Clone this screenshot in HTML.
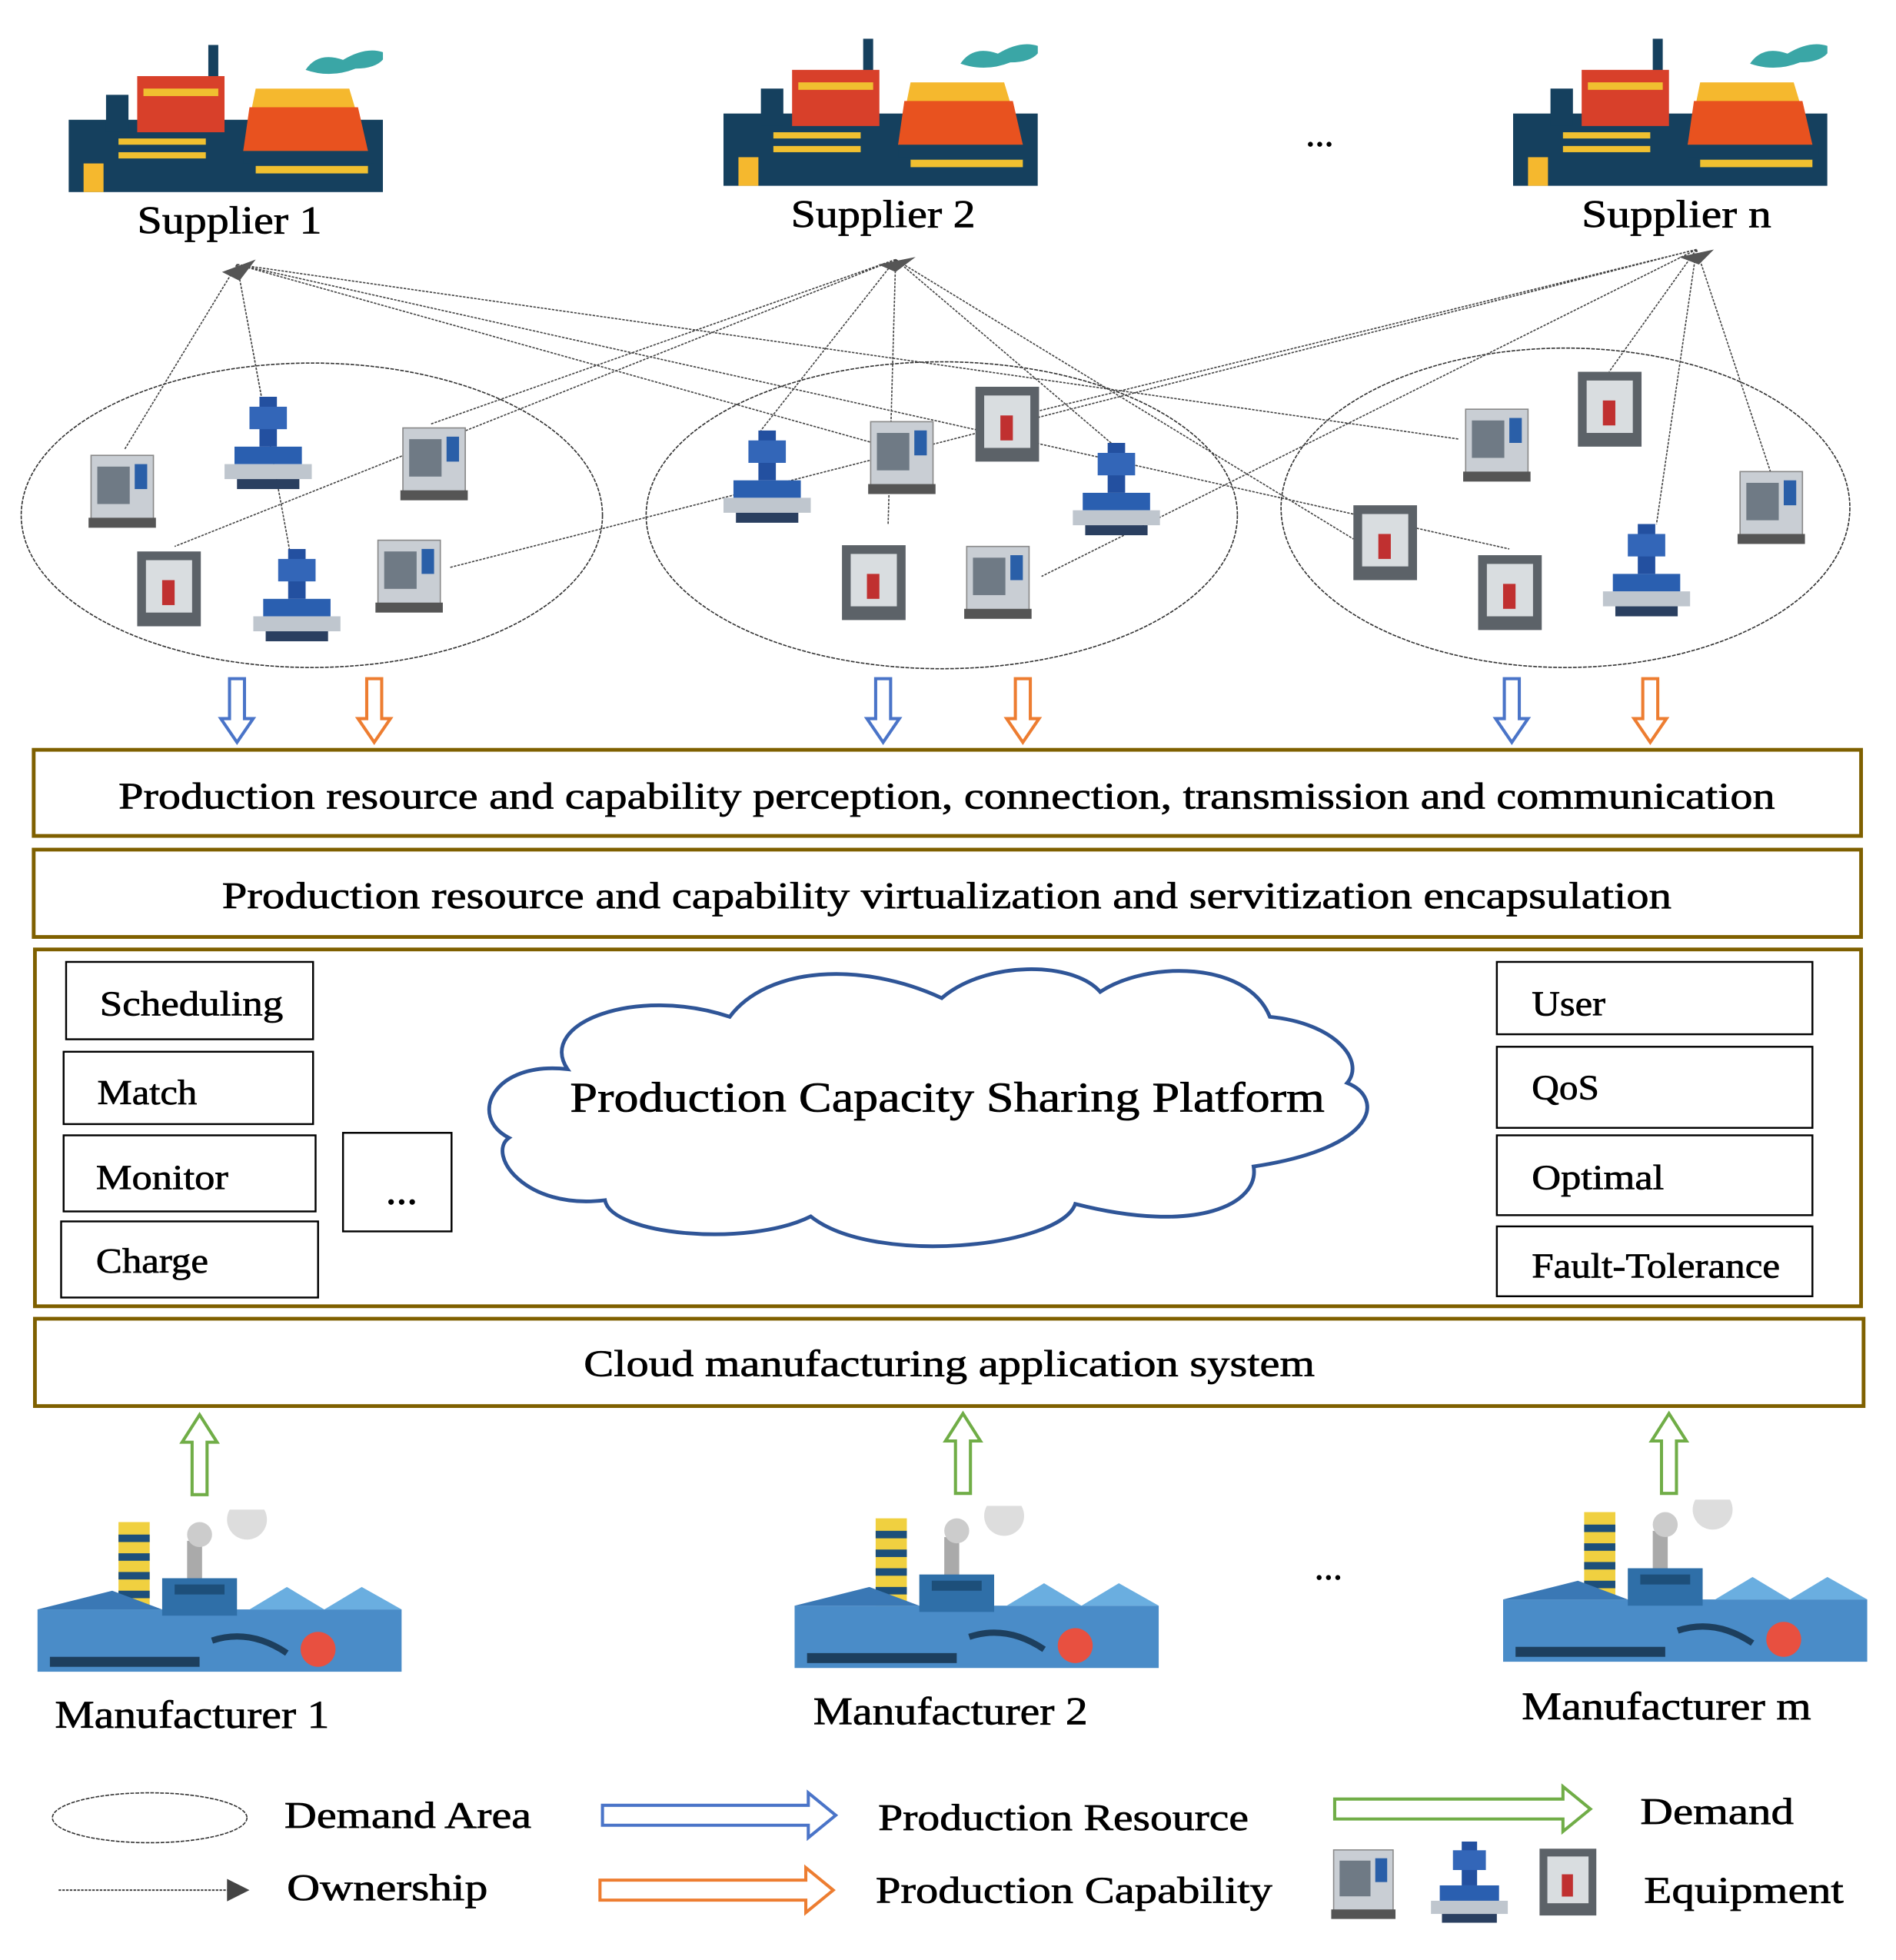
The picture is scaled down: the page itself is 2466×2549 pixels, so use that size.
<!DOCTYPE html>
<html><head><meta charset="utf-8"><style>
html,body{margin:0;padding:0;background:#fff}
svg{display:block}
text{font-family:"Liberation Serif",serif;fill:#000;stroke:#000;stroke-width:0.45}
</style></head><body>
<svg width="2466" height="2549" viewBox="0 0 1520 1571" preserveAspectRatio="none" xmlns="http://www.w3.org/2000/svg">
<defs>
<symbol id="sup" viewBox="0 0 252 118">
 <rect x="0" y="60" width="252" height="58" fill="#15405e"/>
 <rect x="30" y="40" width="18" height="30" fill="#15405e"/>
 <rect x="112" y="0" width="8" height="40" fill="#15405e"/>
 <rect x="55" y="25" width="70" height="45" fill="#d8402a"/>
 <rect x="60" y="35" width="60" height="6" fill="#f0c030"/>
 <polygon points="150,35 225,35 240,85 140,85" fill="#f5b82e"/>
 <polygon points="145,50 232,50 240,85 140,85" fill="#e8521f"/>
 <rect x="140" y="85" width="105" height="10" fill="#15405e"/>
 <rect x="150" y="97" width="90" height="6" fill="#f0c030"/>
 <rect x="40" y="75" width="70" height="5" fill="#f0c030"/>
 <rect x="40" y="86" width="70" height="5" fill="#f0c030"/>
 <rect x="12" y="95" width="16" height="23" fill="#f5b82e"/>
 <path d="M190 20 q10 -15 30 -8 q20 -12 35 -5 q-5 12 -25 12 q-20 8 -40 1z" fill="#3aa6a6"/>
</symbol>
<symbol id="man" viewBox="0 0 292 130">
 <rect x="65" y="10" width="25" height="70" fill="#f0d040"/>
 <rect x="65" y="20" width="25" height="6" fill="#1d4f7a"/><rect x="65" y="35" width="25" height="6" fill="#1d4f7a"/><rect x="65" y="50" width="25" height="6" fill="#1d4f7a"/><rect x="65" y="65" width="25" height="6" fill="#1d4f7a"/>
 <rect x="120" y="25" width="12" height="35" fill="#aaa"/>
 <circle cx="130" cy="20" r="10" fill="#ccc"/><circle cx="168" cy="8" r="16" fill="#ddd"/>
 <rect x="0" y="80" width="292" height="50" fill="#4a8cc8"/>
 <polygon points="0,80 60,65 100,80" fill="#3a78b5"/>
 <rect x="100" y="55" width="60" height="30" fill="#2f6fa8"/>
 <rect x="110" y="60" width="40" height="8" fill="#1d4f7a"/>
 <polygon points="170,80 200,62 230,80 260,62 292,80" fill="#6aaee0"/>
 <circle cx="225" cy="112" r="14" fill="#e85040"/>
 <rect x="10" y="118" width="120" height="8" fill="#1d3f5e"/>
 <path d="M140 105 q30 -10 60 10" stroke="#1d3f5e" stroke-width="5" fill="none"/>
</symbol>
<symbol id="mA" viewBox="0 0 60 65">
 <rect x="5" y="5" width="50" height="52" fill="#c9ced4" stroke="#888"/>
 <rect x="10" y="14" width="26" height="30" fill="#6f7a85"/>
 <rect x="40" y="12" width="10" height="20" fill="#2a5fa8"/>
 <rect x="3" y="55" width="54" height="8" fill="#555"/>
</symbol>
<symbol id="mB" viewBox="0 0 70 75">
 <rect x="28" y="0" width="14" height="40" fill="#2350a0"/>
 <rect x="20" y="8" width="30" height="18" fill="#3366b8"/>
 <rect x="8" y="40" width="54" height="14" fill="#2a5fb0"/>
 <rect x="0" y="54" width="70" height="12" fill="#bfc6ce"/>
 <rect x="10" y="66" width="50" height="8" fill="#2a3f60"/>
</symbol>
<symbol id="mC" viewBox="0 0 55 65">
 <rect x="2" y="2" width="51" height="60" fill="#5c6268"/>
 <rect x="9" y="9" width="37" height="42" fill="#d9dde0"/>
 <rect x="22" y="25" width="10" height="20" fill="#c03030"/>
</symbol>
</defs>

<use href="#sup" x="55" y="36" width="252" height="118"/>
<use href="#sup" x="580" y="31" width="252" height="118"/>
<use href="#sup" x="1213" y="31" width="252" height="118"/>
<text x="110" y="187" font-size="31" textLength="148" lengthAdjust="spacingAndGlyphs">Supplier 1</text>
<text x="634" y="182" font-size="31" textLength="148" lengthAdjust="spacingAndGlyphs">Supplier 2</text>
<text x="1268" y="182" font-size="31" textLength="152" lengthAdjust="spacingAndGlyphs">Supplier n</text>
<text x="1058" y="117" font-size="30" text-anchor="middle">...</text>

<g fill="none" stroke="#333" stroke-width="1" stroke-dasharray="3,1">
<ellipse cx="250" cy="413" rx="233" ry="122"/>
<ellipse cx="755" cy="413" rx="237" ry="123"/>
<ellipse cx="1255" cy="407" rx="228" ry="128"/>
</g>

<g stroke="#444" stroke-width="1" stroke-dasharray="2,1" fill="none">
<path d="M190 212 L100 360 M190 212 L210 320 M190 212 L232 440 M190 212 L700 355 M190 212 L1170 352 M190 212 L1210 440"/>
<path d="M718 208 L345 340 M718 208 L140 438 M718 208 L610 345 M718 208 L712 420 M718 208 L893 357 M718 208 L1085 432"/>
<path d="M1360 200 L360 455 M1360 200 L835 462 M1360 200 L830 330 M1360 200 L1290 298 M1360 200 L1420 380 M1360 200 L1328 420"/>
</g>
<polygon points="178,218 205,208 192,225" fill="#555"/>
<polygon points="704,212 734,206 718,218" fill="#555"/>
<polygon points="1346,206 1374,200 1362,212" fill="#555"/>

<use href="#mA" x="68" y="360" width="60" height="65"/>
<use href="#mB" x="180" y="318" width="70" height="75"/>
<use href="#mA" x="318" y="338" width="60" height="65"/>
<use href="#mC" x="108" y="440" width="55" height="65"/>
<use href="#mB" x="203" y="440" width="70" height="75"/>
<use href="#mA" x="298" y="428" width="60" height="65"/>
<use href="#mB" x="580" y="345" width="70" height="75"/>
<use href="#mA" x="693" y="333" width="60" height="65"/>
<use href="#mC" x="780" y="308" width="55" height="65"/>
<use href="#mB" x="860" y="355" width="70" height="75"/>
<use href="#mC" x="673" y="435" width="55" height="65"/>
<use href="#mA" x="770" y="433" width="60" height="65"/>
<use href="#mA" x="1170" y="323" width="60" height="65"/>
<use href="#mC" x="1263" y="296" width="55" height="65"/>
<use href="#mA" x="1390" y="373" width="60" height="65"/>
<use href="#mC" x="1083" y="403" width="55" height="65"/>
<use href="#mC" x="1183" y="443" width="55" height="65"/>
<use href="#mB" x="1285" y="420" width="70" height="75"/>

<g fill="#fff" stroke-width="2.5">
<g stroke="#4a74c8"><path d="M184 544 h12 v32 h7 l-13 19 l-13 -19 h7z"/><path d="M702 544 h12 v32 h7 l-13 19 l-13 -19 h7z"/><path d="M1206 544 h12 v32 h7 l-13 19 l-13 -19 h7z"/></g>
<g stroke="#ed7d31"><path d="M294 544 h12 v32 h7 l-13 19 l-13 -19 h7z"/><path d="M814 544 h12 v32 h7 l-13 19 l-13 -19 h7z"/><path d="M1317 544 h12 v32 h7 l-13 19 l-13 -19 h7z"/></g>
</g>

<g fill="#fff" stroke="#7f6000" stroke-width="3">
<rect x="27" y="601" width="1465" height="69"/>
<rect x="27" y="681" width="1465" height="70"/>
<rect x="28" y="761" width="1464" height="286"/>
<rect x="28" y="1057" width="1466" height="70"/>
</g>
<text x="95" y="648" font-size="30" textLength="1328" lengthAdjust="spacingAndGlyphs">Production resource and capability perception, connection, transmission and communication</text>
<text x="178" y="728" font-size="30" textLength="1162" lengthAdjust="spacingAndGlyphs">Production resource and capability virtualization and servitization encapsulation</text>
<text x="468" y="1103" font-size="30" textLength="586" lengthAdjust="spacingAndGlyphs">Cloud manufacturing application system</text>

<g fill="#fff" stroke="#000" stroke-width="1.5">
<rect x="53" y="771" width="198" height="62"/>
<rect x="51" y="843" width="200" height="58"/>
<rect x="51" y="910" width="202" height="61"/>
<rect x="49" y="979" width="206" height="61"/>
<rect x="275" y="908" width="87" height="79"/>
<rect x="1200" y="771" width="253" height="58"/>
<rect x="1200" y="839" width="253" height="65"/>
<rect x="1200" y="910" width="253" height="64"/>
<rect x="1200" y="983" width="253" height="56"/>
</g>
<g font-size="28">
<text x="80" y="814" textLength="147" lengthAdjust="spacingAndGlyphs">Scheduling</text>
<text x="78" y="885" textLength="80" lengthAdjust="spacingAndGlyphs">Match</text>
<text x="77" y="953" textLength="106" lengthAdjust="spacingAndGlyphs">Monitor</text>
<text x="77" y="1020" textLength="90" lengthAdjust="spacingAndGlyphs">Charge</text>
<text x="322" y="965" text-anchor="middle" font-size="34">...</text>
<text x="1228" y="814" textLength="59" lengthAdjust="spacingAndGlyphs">User</text>
<text x="1228" y="881" textLength="54" lengthAdjust="spacingAndGlyphs">QoS</text>
<text x="1228" y="953" textLength="106" lengthAdjust="spacingAndGlyphs">Optimal</text>
<text x="1228" y="1024" textLength="199" lengthAdjust="spacingAndGlyphs">Fault-Tolerance</text>
</g>

<path d="M455 857 C430 820 510 790 585 815 C615 775 690 770 755 800 C790 770 860 770 882 795 C920 770 1000 770 1018 815 C1070 820 1095 850 1080 868 C1110 880 1105 920 1005 935 C1010 965 960 990 862 965 C850 1000 700 1015 650 975 C600 1000 490 990 485 962 C420 970 390 925 408 912 C375 895 395 850 455 857 Z" fill="#fff" stroke="#2f5597" stroke-width="3"/>
<text x="457" y="891" font-size="34" textLength="605" lengthAdjust="spacingAndGlyphs">Production Capacity Sharing Platform</text>

<g fill="#fff" stroke="#70ad47" stroke-width="2.5">
<path d="M154 1198 v-42 h-8 l14 -22 l14 22 h-8 v42z"/>
<path d="M766 1197 v-42 h-8 l14 -22 l14 22 h-8 v42z"/>
<path d="M1332 1197 v-42 h-8 l14 -22 l14 22 h-8 v42z"/>
</g>

<use href="#man" x="30" y="1210" width="292" height="130"/>
<use href="#man" x="637" y="1207" width="292" height="130"/>
<use href="#man" x="1205" y="1202" width="292" height="130"/>
<text x="44" y="1385" font-size="31" textLength="220" lengthAdjust="spacingAndGlyphs">Manufacturer 1</text>
<text x="652" y="1382" font-size="31" textLength="220" lengthAdjust="spacingAndGlyphs">Manufacturer 2</text>
<text x="1220" y="1378" font-size="31" textLength="232" lengthAdjust="spacingAndGlyphs">Manufacturer m</text>
<text x="1065" y="1266" font-size="30" text-anchor="middle">...</text>

<ellipse cx="120" cy="1457" rx="78" ry="20" fill="none" stroke="#333" stroke-dasharray="3,1"/>
<text x="228" y="1465" font-size="30" textLength="198" lengthAdjust="spacingAndGlyphs">Demand Area</text>
<line x1="47" y1="1515" x2="190" y2="1515" stroke="#444" stroke-dasharray="2,1" stroke-width="1.2"/>
<polygon points="182,1506 200,1515 182,1524" fill="#444"/>
<text x="230" y="1523" font-size="30" textLength="161" lengthAdjust="spacingAndGlyphs">Ownership</text>
<path d="M483 1447 h165 v-10 l22 18 l-22 18 v-10 h-165z" fill="#fff" stroke="#4a74c8" stroke-width="2.5"/>
<text x="704" y="1467" font-size="30" textLength="297" lengthAdjust="spacingAndGlyphs">Production Resource</text>
<path d="M481 1507 h165 v-10 l22 18 l-22 18 v-10 h-165z" fill="#fff" stroke="#ed7d31" stroke-width="2.5"/>
<text x="702" y="1525" font-size="30" textLength="318" lengthAdjust="spacingAndGlyphs">Production Capability</text>
<path d="M1070 1442 h183 v-10 l22 18 l-22 18 v-10 h-183z" fill="#fff" stroke="#70ad47" stroke-width="2.5"/>
<text x="1315" y="1462" font-size="30" textLength="123" lengthAdjust="spacingAndGlyphs">Demand</text>
<use href="#mA" x="1063" y="1478" width="60" height="62"/>
<use href="#mB" x="1143" y="1476" width="70" height="66"/>
<use href="#mC" x="1232" y="1480" width="50" height="58"/>
<text x="1318" y="1525" font-size="30" textLength="160" lengthAdjust="spacingAndGlyphs">Equipment</text>
</svg>
</body></html>
